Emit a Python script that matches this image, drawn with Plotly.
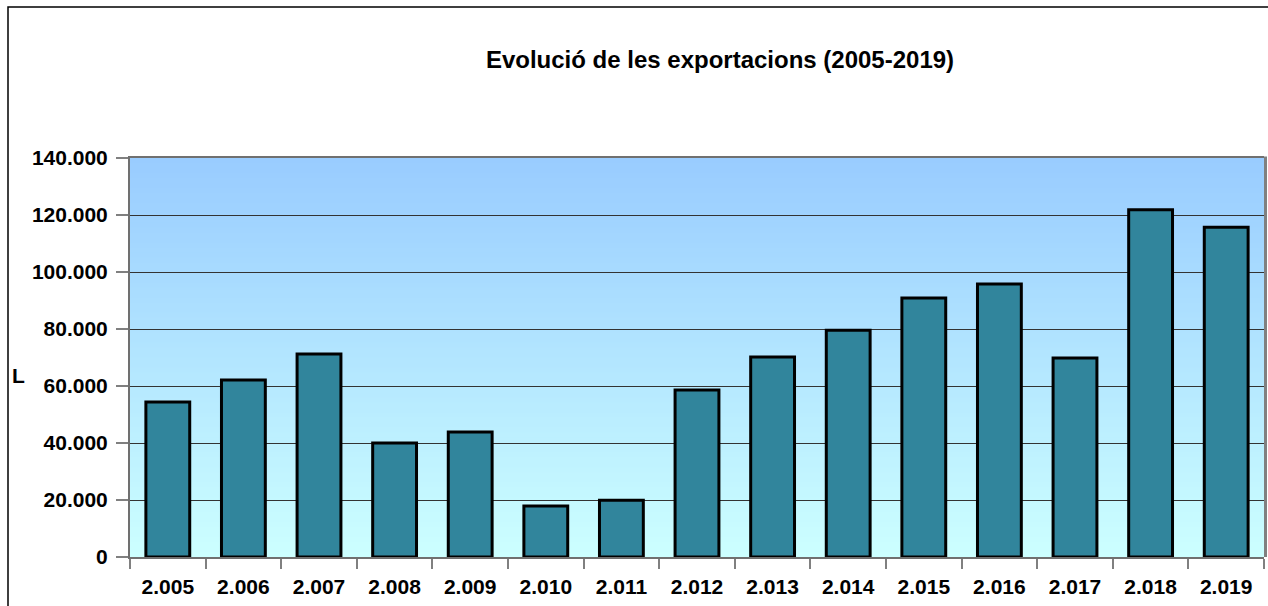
import plotly.graph_objects as go

years = ["2.005", "2.006", "2.007", "2.008", "2.009", "2.010", "2.011", "2.012",
         "2.013", "2.014", "2.015", "2.016", "2.017", "2.018", "2.019"]
exports = [54400, 62100, 71200, 40000, 43900, 17900, 19900, 58600,
           70200, 79600, 90900, 95800, 69800, 121800, 115700]
y_ticks = [0, 20000, 40000, 60000, 80000, 100000, 120000, 140000]

W, H = 1268, 606
L, R, T, B = 130, 4, 158, 49
pw, ph = W - L - R, H - T - B

fig = go.Figure(go.Bar(
    x=years, y=exports,
    marker=dict(color="#31859C", line=dict(color="black", width=3)),
))

# gradient background
shapes = []
n = 80
top = (153, 204, 255)
bot = (204, 255, 255)
for i in range(n):
    f = i / (n - 1)
    c = tuple(round(bot[k] + (top[k] - bot[k]) * f) for k in range(3))
    shapes.append(dict(type="rect", xref="x domain", yref="y domain",
                       x0=0, x1=1, y0=i / n, y1=(i + 1) / n + 0.002,
                       fillcolor="rgb(%d,%d,%d)" % c, line=dict(width=0),
                       layer="below"))
# right edge of the plot area: thick grey
shapes.append(dict(type="line", xref="paper", yref="paper",
                   x0=1 + 1.5 / pw, x1=1 + 1.5 / pw, y0=0, y1=1 + 1.5 / ph,
                   line=dict(color="#808080", width=3)))
# outer chart border (top and left edges visible)
shapes.append(dict(type="rect", xref="paper", yref="paper",
                   x0=(8 - L) / pw, x1=(W + 20 - L) / pw,
                   y0=-(B + 20) / ph, y1=(H - B - 7) / ph,
                   line=dict(color="black", width=1.5), fillcolor="rgba(0,0,0,0)"))

font = "Arial, Liberation Sans, sans-serif"
fig.update_layout(
    width=W, height=H,
    margin=dict(l=L, r=R, t=T, b=B),
    paper_bgcolor="white", plot_bgcolor="rgba(0,0,0,0)",
    separators=",.",
    bargap=0.42,
    showlegend=False,
    shapes=shapes,
    title=dict(text="<b>Evolució de les exportacions (2005-2019)</b>",
               x=720 / W, xanchor="center", y=1 - 60 / H, yanchor="middle",
               font=dict(family=font, size=24, color="black")),
    xaxis=dict(type="category", tickson="boundaries", ticks="outside", ticklen=10,
               tickcolor="#808080", tickwidth=1.5, ticklabelstandoff=10,
               showline=True, linecolor="#707070", linewidth=2, mirror=True,
               showgrid=False,
               tickfont=dict(family=font, size=21, color="black", weight="bold")),
    yaxis=dict(range=[0, 140000], tickvals=y_ticks, tickformat=",d",
               ticks="outside", ticklen=12, tickcolor="#808080", tickwidth=1.5,
               ticklabelstandoff=4,
               showline=True, linecolor="#707070", linewidth=2, mirror=False,
               showgrid=True, gridcolor="#333333", gridwidth=1,
               zeroline=False,
               tickfont=dict(family=font, size=21, color="black", weight="bold")),
    annotations=[dict(text="<b>L</b>", xref="paper", yref="paper",
                      x=(18 - L) / pw, y=(557 - 375) / ph, showarrow=False,
                      xanchor="center",
                      font=dict(family=font, size=21, color="black"))],
)

fig.write_html(
    "out.html",
    config={"displayModeBar": False},
    post_script="document.body.style.margin='0';document.body.style.overflow='hidden';",
)
